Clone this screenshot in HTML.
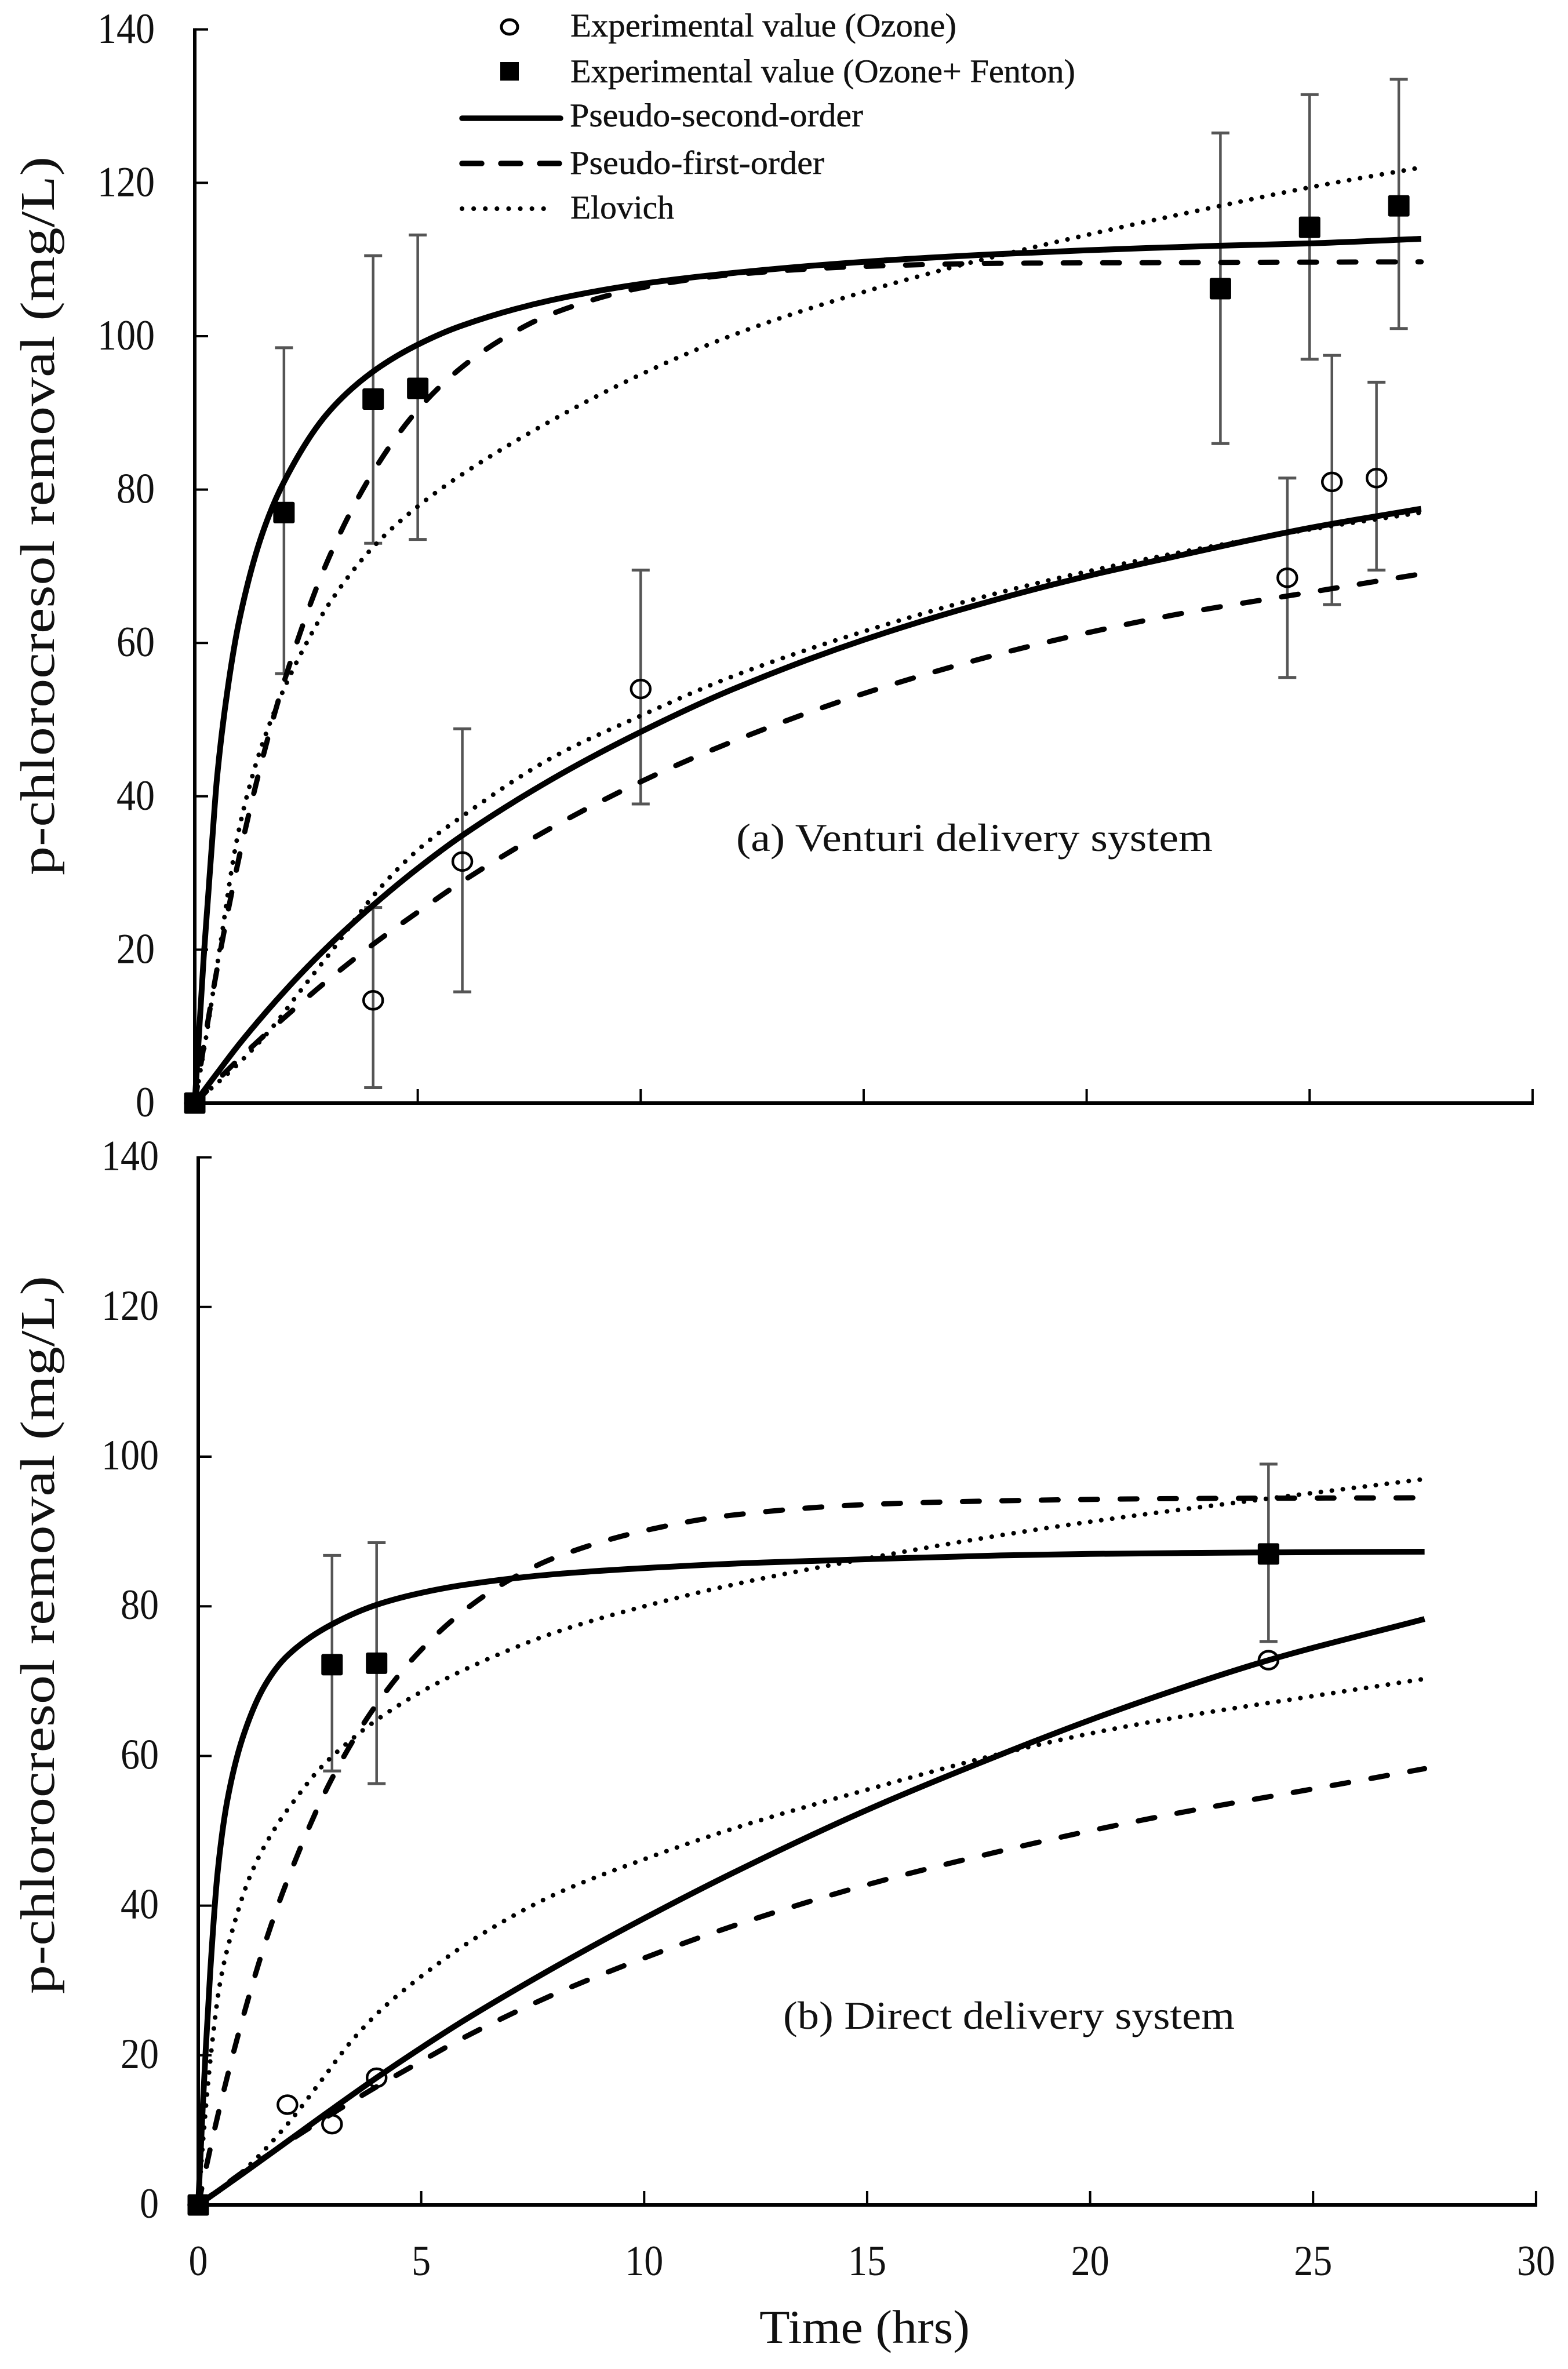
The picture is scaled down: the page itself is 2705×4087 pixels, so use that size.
<!DOCTYPE html>
<html lang="en">
<head>
<meta charset="utf-8">
<title>p-chlorocresol removal kinetics</title>
<style>
html,body{margin:0;padding:0;background:#fff;}
svg{display:block;}
text{font-family:"Liberation Serif",serif;fill:#111;}
</style>
</head>
<body>
<svg id="chart" xmlns="http://www.w3.org/2000/svg" width="2705" height="4087" viewBox="0 0 2705 4087">
  <rect width="2705" height="4087" fill="#fff"/>
  <g>
    <g>
      <ellipse cx="879" cy="46.5" rx="14" ry="12.5" fill="#fff" stroke="#000" stroke-width="5"/>
      <text x="984" y="63" font-size="57" stroke="#111" stroke-width="0.5" textLength="666" lengthAdjust="spacingAndGlyphs">Experimental value (Ozone)</text>
    </g>
    <g>
      <rect x="863" y="107" width="32" height="32" fill="#000"/>
      <text x="984" y="142" font-size="57" stroke="#111" stroke-width="0.5" textLength="871" lengthAdjust="spacingAndGlyphs">Experimental value (Ozone+ Fenton)</text>
    </g>
    <g>
      <line x1="797" y1="204" x2="967" y2="204" stroke="#000" stroke-width="9.5" stroke-linecap="round"/>
      <text x="983" y="218" font-size="57" stroke="#111" stroke-width="0.5" textLength="506" lengthAdjust="spacingAndGlyphs">Pseudo-second-order</text>
    </g>
    <g>
      <line x1="797" y1="282" x2="967" y2="282" stroke="#000" stroke-width="9.5" stroke-linecap="round" stroke-dasharray="34 33"/>
      <text x="983" y="300" font-size="57" stroke="#111" stroke-width="0.5" textLength="439" lengthAdjust="spacingAndGlyphs">Pseudo-first-order</text>
    </g>
    <g>
      <line x1="797" y1="360" x2="957" y2="360" stroke="#000" stroke-width="8" stroke-linecap="round" stroke-dasharray="0.1 20"/>
      <text x="984" y="377" font-size="57" stroke="#111" stroke-width="0.5" textLength="179" lengthAdjust="spacingAndGlyphs">Elovich</text>
    </g>
  </g>
  <text x="1270" y="1468" font-size="68" textLength="822" lengthAdjust="spacingAndGlyphs">(a) Venturi delivery system</text>
  <text x="1351" y="3500" font-size="68" textLength="779" lengthAdjust="spacingAndGlyphs">(b) Direct delivery system</text>
  <text transform="translate(93,1510) rotate(-90)" font-size="84" textLength="1240" lengthAdjust="spacingAndGlyphs">p-chlorocresol removal (mg/L)</text>
  <text transform="translate(93,3440) rotate(-90)" font-size="84" textLength="1239" lengthAdjust="spacingAndGlyphs">p-chlorocresol removal (mg/L)</text>
  <text x="1310" y="4042" font-size="82" textLength="363" lengthAdjust="spacingAndGlyphs">Time (hrs)</text>
</svg>
<script>
// ---- Axis tick labels ----
const xTickValues = [0, 5, 10, 15, 20, 25, 30];
const yTickValues = [0, 20, 40, 60, 80, 100, 120, 140];

// ---- Panel (a) Venturi: experimental values ----
const aFentonT = [0, 2, 4, 5, 23, 25, 27];
const aFentonQ = [0, 77, 91.8, 93.2, 106.2, 114.2, 117];
const aFentonHigh = [null, 98.5, 110.5, 113.2, 126.5, 131.5, 133.5];
const aFentonLow = [null, 56, 73, 73.5, 86, 97, 101];
const aOzoneT = [0, 4, 6, 10, 24.5, 25.5, 26.5];
const aOzoneQ = [0, 13.4, 31.5, 54, 68.5, 81, 81.5];
const aOzoneHigh = [null, 25.5, 48.8, 69.5, 81.5, 97.5, 94];
const aOzoneLow = [null, 2, 14.5, 39, 55.5, 65, 69.5];

// ---- Panel (a): fitted curves ----
const aFentonPsoT = [0, 0.1, 0.2, 0.3, 0.4, 0.5, 0.75, 1, 1.5, 2, 3, 4, 5, 6, 8, 10, 12, 15, 18, 20, 23, 25, 27.5];
const aFentonPsoQ = [0, 9.5, 19, 27, 35, 42.5, 54.5, 63, 74, 81, 90.1, 95.4, 98.9, 101.4, 104.7, 106.8, 108.2, 109.7, 110.7, 111.2, 111.8, 112.1, 112.7];
const aFentonPfoT = [0, 0.25, 0.5, 1, 1.5, 2, 3, 4, 5, 6, 7, 8, 10, 12, 15, 18, 22, 27.5];
const aFentonPfoQ = [0, 9.1, 17.5, 32.2, 44.5, 54.9, 71, 82.3, 90.4, 96, 100, 102.9, 106.3, 108, 109.1, 109.5, 109.6, 109.7];
const aFentonElovT = [0, 0.26, 0.53, 0.96, 1.33, 1.65, 2.03, 2.48, 3, 4, 5, 6, 8, 10, 12, 14, 17, 20, 23, 25, 27.5];
const aFentonElovQ = [0, 8.8, 19, 34.8, 43.4, 49, 54.4, 59.7, 65, 72.5, 77.8, 82, 89, 95, 100, 104, 109, 113.2, 117, 119.4, 122];
const aOzonePsoT = [0, 0.5, 1, 2, 3, 4, 5, 6, 8, 10, 12, 15, 18, 20, 22, 25, 27.5];
const aOzonePsoQ = [0, 3.9, 7.7, 14.5, 20.5, 25.8, 30.6, 34.9, 42.2, 48.4, 53.8, 60.4, 65.7, 68.7, 71.3, 75, 77.5];
const aOzonePfoT = [0, 1, 2, 3, 4, 5, 6, 8, 10, 12, 15, 18, 20, 22, 25, 27.5];
const aOzonePfoQ = [0, 5.8, 11.1, 16.1, 20.7, 24.9, 28.9, 35.9, 41.9, 47, 53.4, 58.5, 61.3, 63.7, 66.6, 69];
const aOzoneElovT = [0, 1.13, 1.8, 2.26, 2.74, 3.04, 3.5, 4, 5, 6, 8, 10, 12, 15, 18, 20, 22, 25, 27.5];
const aOzoneElovQ = [0, 6, 10.3, 13.8, 17.4, 19.6, 23.2, 27, 33, 37.4, 45, 50.5, 55.5, 61.5, 66.5, 69.3, 71.7, 74.8, 77];

// ---- Panel (b) Direct: experimental values ----
const bFentonT = [0, 3, 4, 24];
const bFentonQ = [0, 72.2, 72.4, 87];
const bFentonHigh = [null, 86.8, 88.5, 99];
const bFentonLow = [null, 58, 56.3, 75.3];
const bOzoneT = [0, 2, 3, 4, 24];
const bOzoneQ = [0, 13.4, 10.8, 17, 72.8];

// ---- Panel (b): fitted curves ----
const bFentonPsoT = [0, 0.1, 0.17, 0.27, 0.43, 0.65, 1, 1.5, 2, 3, 4, 5, 6, 8, 10, 12, 15, 18, 20, 24, 27.5];
const bFentonPsoQ = [0, 13, 21, 31.3, 44.2, 54, 62.5, 69.5, 73.4, 77.6, 80.2, 81.8, 82.9, 84.3, 85.1, 85.7, 86.3, 86.8, 87, 87.2, 87.3];
const bFentonPfoT = [0, 0.25, 0.5, 1, 1.5, 2, 3, 4, 5, 6, 7, 8, 10, 12, 15, 18, 22, 27.5];
const bFentonPfoQ = [0, 7, 13.5, 25, 35, 43.4, 57, 66.9, 74.2, 79.6, 83.6, 86.5, 90.1, 92.2, 93.6, 94.1, 94.4, 94.5];
const bFentonElovT = [0, 0.1, 0.27, 0.49, 0.78, 1.18, 1.77, 2.2, 2.68, 3.2, 4, 5.1, 6.4, 8, 10, 12, 15, 18, 20, 24, 27.5];
const bFentonElovQ = [0, 8, 19.3, 29.7, 37, 44.2, 50.8, 54.4, 58, 61, 64.8, 68.9, 72.7, 76.5, 80, 82.9, 86.4, 89.5, 91.3, 94.4, 97];
const bOzonePsoT = [0, 1, 2, 3, 4, 5, 6, 8, 10, 12, 15, 18, 20, 22, 24, 27.5];
const bOzonePsoQ = [0, 4.2, 8.5, 12.8, 17, 21, 24.8, 31.8, 38.3, 44.4, 52.8, 60.2, 64.8, 69, 72.8, 78.3];
const bOzonePfoT = [0, 1, 2, 3, 4, 5, 6, 8, 10, 12, 15, 18, 20, 22, 25, 27.5];
const bOzonePfoQ = [0, 4.4, 8.4, 12.2, 15.8, 19.2, 22.5, 28.2, 33, 37.3, 42.8, 47.3, 50, 52.4, 55.6, 58.3];
const bOzoneElovT = [0, 1, 2, 2.77, 3.38, 4.07, 4.82, 5.65, 6.28, 8, 10, 12, 15, 18, 20, 22, 25, 27.5];
const bOzoneElovQ = [0, 4.5, 10.8, 16.7, 21.5, 25.9, 29.7, 33.4, 35.9, 41.5, 46.2, 50.3, 55.5, 60.3, 63, 65.2, 68, 70.3];

const NS = 'http://www.w3.org/2000/svg';
const root = document.getElementById('chart');

function el(tag, attrs, parent) {
  const n = document.createElementNS(NS, tag);
  for (const k in attrs) n.setAttribute(k, attrs[k]);
  (parent || root).appendChild(n);
  return n;
}
function makeX(px0, pxPerUnit) { return t => px0 + t * pxPerUnit; }
function makeY(py0, pxPerUnit) { return v => py0 - v * pxPerUnit; }

// Monotone cubic path through the read points
function curvePath(xs, ys, X, Y) {
  const px = xs.map(X), py = ys.map(Y), n = px.length;
  const sec = [];
  for (let i = 0; i < n - 1; i++) sec.push((py[i + 1] - py[i]) / (px[i + 1] - px[i]));
  const m = new Array(n);
  for (let i = 1; i < n - 1; i++) {
    const h0 = px[i] - px[i - 1], h1 = px[i + 1] - px[i];
    if (sec[i - 1] * sec[i] <= 0) { m[i] = 0; continue; }
    m[i] = (h0 + h1) * 3 / ((2 * h1 + h0) / sec[i - 1] + (h1 + 2 * h0) / sec[i]);
  }
  m[0] = sec[0];
  m[n - 1] = sec[n - 2];
  let d = 'M' + px[0].toFixed(1) + ' ' + py[0].toFixed(1);
  for (let i = 0; i < n - 1; i++) {
    const h = (px[i + 1] - px[i]) / 3;
    d += 'C' + [px[i] + h, py[i] + m[i] * h, px[i + 1] - h, py[i + 1] - m[i + 1] * h, px[i + 1], py[i + 1]].map(v => v.toFixed(1)).join(' ');
  }
  return d;
}

function drawAxes(prefix, X, Y, labelRight, labelDrop, showXLabels) {
  const g = el('g', {});
  
  
  const yAxis = el('line', {x1: X(0), y1: Y(140) - 2, x2: X(0), y2: Y(0) + 2.5, stroke: '#000', 'stroke-width': 6}, g);
  
  
  const xAxis = el('line', {x1: X(0), y1: Y(0), x2: X(30) + 2, y2: Y(0), stroke: '#000', 'stroke-width': 6}, g);
  
  
  yTickValues.forEach(v => {
    const tick = el('line', {x1: X(0), y1: Y(v), x2: X(0) + 23, y2: Y(v), stroke: '#000', 'stroke-width': 4}, g);
    
    
    const label = el('text', {x: labelRight, y: Y(v) + labelDrop, 'font-size': 74, 'text-anchor': 'end', textLength: String(v).length * 33, lengthAdjust: 'spacingAndGlyphs'}, g);
    
    
    label.textContent = v;
  });
  xTickValues.forEach(t => {
    if (t > 0) {
      const tick = el('line', {x1: X(t), y1: Y(0), x2: X(t), y2: Y(0) - 24, stroke: '#000', 'stroke-width': 4}, g);
      
      
    }
    if (showXLabels) {
      const label = el('text', {x: X(t), y: Y(0) + 121, 'font-size': 74, 'text-anchor': 'middle', textLength: String(t).length * 33, lengthAdjust: 'spacingAndGlyphs'}, g);
      
      
      label.textContent = t;
    }
  });
}

const curveStyles = {
  pso: {stroke: '#000', 'stroke-width': 10, fill: 'none', 'stroke-linejoin': 'round'},
  pfo: {stroke: '#000', 'stroke-width': 9, fill: 'none', 'stroke-dasharray': '29 39', 'stroke-linecap': 'round'},
  elovich: {stroke: '#000', 'stroke-width': 8, fill: 'none', 'stroke-dasharray': '0.1 19', 'stroke-linecap': 'round'}
};

function drawCurve(name, kind, xs, ys, X, Y) {
  const p = el('path', Object.assign({d: curvePath(xs, ys, X, Y)}, curveStyles[kind]));
  
  
}

function drawErrors(name, xs, high, low, X, Y) {
  xs.forEach((t, i) => {
    if (high[i] === null) return;
    const g = el('g', {stroke: '#555', fill: 'none'});
    
    
    el('line', {x1: X(t), x2: X(t), y1: Y(high[i]), y2: Y(low[i]), 'stroke-width': 4.5}, g);
    el('line', {x1: X(t) - 15.5, x2: X(t) + 15.5, y1: Y(high[i]), y2: Y(high[i]), 'stroke-width': 5}, g);
    el('line', {x1: X(t) - 15.5, x2: X(t) + 15.5, y1: Y(low[i]), y2: Y(low[i]), 'stroke-width': 5}, g);
  });
}

function drawCircles(name, xs, ys, X, Y) {
  xs.forEach((t, i) => {
    const c = el('ellipse', {cx: X(t), cy: Y(ys[i]), rx: 16.5, ry: 15.5, fill: 'none', stroke: '#000', 'stroke-width': 4.5});
    
    
  });
}

function drawSquares(name, xs, ys, X, Y) {
  xs.forEach((t, i) => {
    const s = el('rect', {x: X(t) - 18.5, y: Y(ys[i]) - 18.5, width: 37, height: 37, rx: 3, fill: '#000'});
    
    
  });
}

// ---- Panel (a) ----
const ax = makeX(336, 76.93);
const ay = makeY(1903, 13.23);
drawAxes('panel-a', ax, ay, 267, 23, false);
drawErrors('panel-a-fenton-error-bar', aFentonT, aFentonHigh, aFentonLow, ax, ay);
drawErrors('panel-a-ozone-error-bar', aOzoneT, aOzoneHigh, aOzoneLow, ax, ay);
drawCurve('panel-a-fenton-pso-curve', 'pso', aFentonPsoT, aFentonPsoQ, ax, ay);
drawCurve('panel-a-fenton-pfo-curve', 'pfo', aFentonPfoT, aFentonPfoQ, ax, ay);
drawCurve('panel-a-fenton-elovich-curve', 'elovich', aFentonElovT, aFentonElovQ, ax, ay);
drawCurve('panel-a-ozone-pso-curve', 'pso', aOzonePsoT, aOzonePsoQ, ax, ay);
drawCurve('panel-a-ozone-pfo-curve', 'pfo', aOzonePfoT, aOzonePfoQ, ax, ay);
drawCurve('panel-a-ozone-elovich-curve', 'elovich', aOzoneElovT, aOzoneElovQ, ax, ay);
drawCircles('panel-a-ozone-point', aOzoneT, aOzoneQ, ax, ay);
drawSquares('panel-a-fenton-point', aFentonT, aFentonQ, ax, ay);

// ---- Panel (b) ----
const bx = makeX(342, 76.93);
const by = makeY(3804, 12.91);
drawAxes('panel-b', bx, by, 274, 22, true);
drawErrors('panel-b-fenton-error-bar', bFentonT, bFentonHigh, bFentonLow, bx, by);
drawCurve('panel-b-fenton-pso-curve', 'pso', bFentonPsoT, bFentonPsoQ, bx, by);
drawCurve('panel-b-fenton-pfo-curve', 'pfo', bFentonPfoT, bFentonPfoQ, bx, by);
drawCurve('panel-b-fenton-elovich-curve', 'elovich', bFentonElovT, bFentonElovQ, bx, by);
drawCurve('panel-b-ozone-pso-curve', 'pso', bOzonePsoT, bOzonePsoQ, bx, by);
drawCurve('panel-b-ozone-pfo-curve', 'pfo', bOzonePfoT, bOzonePfoQ, bx, by);
drawCurve('panel-b-ozone-elovich-curve', 'elovich', bOzoneElovT, bOzoneElovQ, bx, by);
drawCircles('panel-b-ozone-point', bOzoneT, bOzoneQ, bx, by);
drawSquares('panel-b-fenton-point', bFentonT, bFentonQ, bx, by);
</script>
</body>
</html>
